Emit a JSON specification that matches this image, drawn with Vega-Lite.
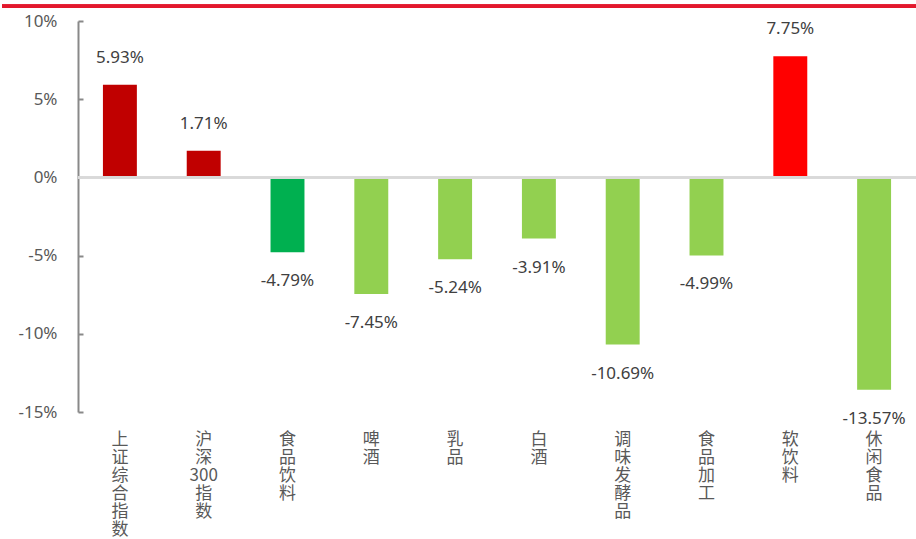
{
  "$schema": "https://vega.github.io/schema/vega-lite/v6.json",
  "width": 838,
  "height": 391,
  "padding": {"left": 0, "top": 4, "right": 0, "bottom": 0},
  "background": "white",
  "config": {"view": {"stroke": null}, "font": "Noto Sans"},
  "data": {"values": [
    {"cat": "上证综合指数", "v": 5.93, "grp": "a"},
    {"cat": "沪深300指数", "v": 1.71, "grp": "a"},
    {"cat": "食品饮料", "v": -4.79, "grp": "b"},
    {"cat": "啤酒", "v": -7.45, "grp": "c"},
    {"cat": "乳品", "v": -5.24, "grp": "c"},
    {"cat": "白酒", "v": -3.91, "grp": "c"},
    {"cat": "调味发酵品", "v": -10.69, "grp": "c"},
    {"cat": "食品加工", "v": -4.99, "grp": "c"},
    {"cat": "软饮料", "v": 7.75, "grp": "d"},
    {"cat": "休闲食品", "v": -13.57, "grp": "c"}
  ]},
  "resolve": {"scale": {"x": "independent"}},
  "layer": [
    {
      "encoding": {
        "x": {"field": "cat", "type": "nominal", "sort": null,
          "scale": {"paddingInner": 0, "paddingOuter": 0},
          "axis": {"title": null, "domain": false, "ticks": false, "labelAngle": 0,
            "labelExpr": "datum.label == '沪深300指数' ? ['沪', '深', '300', '指', '数'] : split(datum.label, '')", "labelFont": "Noto Sans CJK SC",
            "labelFontSize": 17, "labelLineHeight": 18, "labelColor": "#595959",
            "labelPadding": 19, "labelBaseline": "top", "labelAlign": "center"}}
      },
      "layer": [
        {
          "mark": {"type": "bar", "width": {"band": 0.405}},
          "encoding": {
            "y": {"field": "v", "type": "quantitative",
              "scale": {"domain": [-15, 10], "nice": false},
              "axis": {"title": null, "values": [-15, -10, -5, 0, 5, 10], "grid": false,
                "labelExpr": "datum.value + '%'", "labelFontSize": 17, "labelColor": "#595959",
                "domainColor": "#898989", "domainWidth": 2, "tickColor": "#898989", "tickWidth": 2,
                "tickSize": -5, "labelPadding": 26}},
            "color": {"field": "grp", "type": "nominal",
              "scale": {"domain": ["a", "b", "c", "d"], "range": ["#C00000", "#00B050", "#92D050", "#FF0000"]},
              "legend": null}
          }
        },
        {
          "mark": {"type": "rule", "color": "#D9D9D9", "strokeWidth": 2},
          "encoding": {"x": null, "y": {"datum": 0, "type": "quantitative"}}
        },
        {
          "transform": [{"filter": "datum.v >= 0"}],
          "mark": {"type": "text", "fontSize": 17, "color": "#404040", "baseline": "middle", "dy": -27},
          "encoding": {
            "y": {"field": "v", "type": "quantitative"},
            "text": {"value": {"expr": "toString(datum.v) + '%'"}}
          }
        },
        {
          "transform": [{"filter": "datum.v < 0"}],
          "mark": {"type": "text", "fontSize": 17, "color": "#404040", "baseline": "middle", "dy": 29},
          "encoding": {
            "y": {"field": "v", "type": "quantitative"},
            "text": {"value": {"expr": "toString(datum.v) + '%'"}}
          }
        }
      ]
    },
    {
      "mark": {"type": "rule", "color": "#E3182D", "strokeWidth": 3, "clip": false},
      "encoding": {
        "x": {"datum": 0, "type": "quantitative", "scale": {"domain": [0, 1], "range": [-76, 838]}, "axis": null},
        "x2": {"datum": 1},
        "y": {"datum": 10.95, "type": "quantitative"}
      }
    }
  ]
}
